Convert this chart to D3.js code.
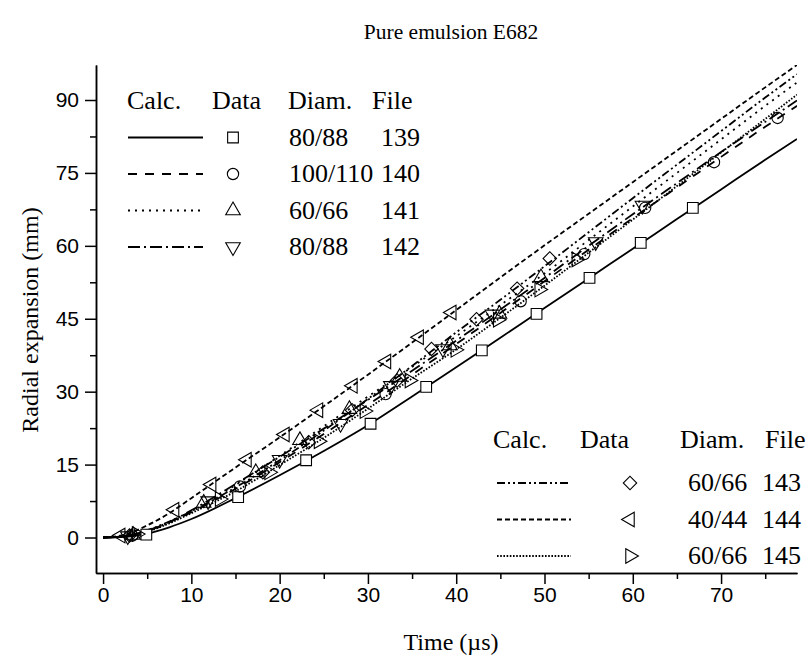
<!DOCTYPE html>
<html>
<head>
<meta charset="utf-8">
<script src="https://cdn.jsdelivr.net/npm/d3@7"></script>
<style>
  body { margin: 0; background: #fff; }
  .axis text { font-family: "Liberation Sans", Arial, sans-serif; font-size: 21px; fill: #000; }
  .axis path, .axis line { stroke: #000; stroke-width: 1.5; }
  .serif { font-family: "Liberation Serif", "Times New Roman", serif; fill: #000; }
</style>
</head>
<body>
<div id="chart"></div>
<script>
// calculated curves on a common time grid (µs -> mm)
const calcTime = [0, 2.5, 5, 7.5, 10, 15, 20, 25, 30, 35, 40, 45, 50, 55, 60, 65, 70, 75, 78.6];
const calc139 = [0, 0.15, 0.8, 2.1, 3.8, 8.1, 12.8, 17.8, 23.1, 29.0, 35.0, 41.1, 47.2, 53.3, 59.4, 65.5, 71.6, 77.7, 82.0];
const calc140 = [0, 0.3, 1.4, 3.1, 5.2, 10.0, 15.5, 21.3, 27.3, 33.5, 39.8, 46.2, 52.7, 59.2, 65.7, 72.0, 78.3, 84.5, 88.8];
const calc141 = [0, 0.3, 1.3, 3.0, 5.3, 10.8, 16.8, 22.9, 29.0, 35.1, 41.4, 47.8, 54.3, 61.2, 68.1, 75.0, 81.9, 88.8, 93.6];
const calc142 = [0, 0.3, 1.4, 3.2, 5.6, 11.0, 16.6, 22.4, 28.3, 34.3, 40.5, 46.9, 53.4, 60.0, 66.5, 72.9, 79.3, 85.5, 89.9];
const calc143 = [0, 0.3, 1.5, 3.3, 5.4, 10.3, 15.9, 22.0, 28.5, 35.3, 42.2, 48.9, 55.8, 62.8, 69.8, 76.7, 83.6, 90.5, 95.3];
const calc144 = [0, 0.6, 2.5, 5.0, 8.1, 14.4, 20.6, 27.0, 33.5, 40.1, 46.8, 53.5, 60.1, 66.6, 73.1, 79.6, 86.1, 92.6, 97.2];
const calc145 = [0, 0.3, 1.2, 2.9, 5.0, 9.5, 14.9, 20.5, 26.5, 32.7, 38.7, 45.2, 51.8, 58.6, 65.4, 72.3, 79.2, 86.1, 91.1];

// measured data points
const t139 = [4.9, 15.3, 23.0, 30.3, 36.6, 42.9, 49.1, 55.1, 60.9, 66.8];
const r139 = [0.6, 8.3, 15.9, 23.4, 31.0, 38.5, 46.0, 53.4, 60.6, 67.8];
const t140 = [3.3, 15.5, 32.0, 47.3, 54.5, 61.4, 69.2, 76.4];
const r140 = [0.4, 10.5, 29.5, 48.6, 58.3, 67.8, 77.2, 86.3];
const t141 = [3.4, 11.4, 17.3, 22.3, 27.9, 33.6, 39.3, 44.9, 49.6];
const r141 = [0.5, 7.1, 13.4, 20.0, 26.4, 33.0, 39.5, 46.0, 53.5];
const t142 = [2.8, 11.9, 20.0, 26.9, 32.6, 38.5, 44.1, 55.8, 61.1];
const r142 = [0.3, 7.5, 16.0, 23.4, 31.2, 38.8, 45.9, 60.8, 68.3];
const t143 = [3.0, 18.1, 23.3, 28.2, 33.3, 37.2, 42.3, 46.9, 50.6];
const r143 = [0.4, 13.4, 19.6, 26.2, 32.3, 38.8, 44.9, 51.2, 57.4];
const t144 = [2.0, 8.1, 12.3, 16.3, 20.6, 24.4, 28.3, 32.1, 35.8, 39.5];
const r144 = [0.4, 5.7, 10.9, 16.0, 21.2, 26.2, 31.2, 36.2, 41.2, 46.3];
const t145 = [3.8, 13.2, 18.8, 24.4, 29.6, 34.7, 39.9, 44.7, 49.4, 53.6];
const r145 = [0.7, 7.9, 13.4, 19.8, 26.0, 32.3, 38.6, 44.8, 51.0, 57.2];

// legend entries
const files = ['139', '140', '141', '142', '143', '144', '145'];
const diams = ['80/88', '100/110', '60/66', '80/88', '60/66', '40/44', '60/66'];

const xTicks = [0, 10, 20, 30, 40, 50, 60, 70];
const xMinor = [5, 15, 25, 35, 45, 55, 65, 75];
const yTicks = [0, 15, 30, 45, 60, 75, 90];
const yMinor = [7.5, 22.5, 37.5, 52.5, 67.5, 82.5];

const calcs = [calc139, calc140, calc141, calc142, calc143, calc144, calc145];
const times = [t139, t140, t141, t142, t143, t144, t145];
const radii = [r139, r140, r141, r142, r143, r144, r145];

// line dash and marker per file
const dashes = [null, '9,8', '2,5', '12,4,2,4', '8,3,2,3,2,3', '5,3', '1.6,1.6'];
const markers = [
  { type: d3.symbolSquare, size: 115, rot: 0, fill: '#fff' },
  { type: d3.symbolCircle, size: 100, rot: 0, fill: 'none' },
  { type: d3.symbolTriangle, size: 92, rot: 0, fill: 'none' },
  { type: d3.symbolTriangle, size: 92, rot: 180, fill: 'none' },
  { type: d3.symbolSquare, size: 90, rot: 45, fill: 'none' },
  { type: d3.symbolTriangle, size: 92, rot: -90, fill: 'none' },
  { type: d3.symbolTriangle, size: 92, rot: 90, fill: 'none' }
];

const width = 808, height = 662;

const x = d3.scaleLinear([-0.8, 78.6], [96, 797]);
const y = d3.scaleLinear([-7.3, 97.2], [573, 65]);

const svg = d3.select('#chart').append('svg')
  .attr('width', width)
  .attr('height', height);

svg.append('defs').append('clipPath').attr('id', 'plot')
  .append('rect')
  .attr('x', x.range()[0]).attr('y', y.range()[1])
  .attr('width', x.range()[1] - x.range()[0])
  .attr('height', y.range()[0] - y.range()[1]);

// axes
svg.append('g').attr('class', 'axis')
  .attr('transform', `translate(0,${y.range()[0]})`)
  .call(d3.axisBottom(x).tickValues(xMinor).tickSize(6).tickSizeOuter(0).tickFormat(''));
svg.append('g').attr('class', 'axis')
  .attr('transform', `translate(0,${y.range()[0]})`)
  .call(d3.axisBottom(x).tickValues(xTicks).tickSize(11).tickSizeOuter(0).tickPadding(3));

svg.append('g').attr('class', 'axis')
  .attr('transform', `translate(${x.range()[0]},0)`)
  .call(d3.axisLeft(y).tickValues(yMinor).tickSize(6).tickSizeOuter(0).tickFormat(''));
svg.append('g').attr('class', 'axis')
  .attr('transform', `translate(${x.range()[0]},0)`)
  .call(d3.axisLeft(y).tickValues(yTicks).tickSize(11).tickSizeOuter(0).tickPadding(6));

// curves
const line = d3.line()
  .x(d => x(d[0]))
  .y(d => y(d[1]))
  .curve(d3.curveMonotoneX);

const plot = svg.append('g').attr('clip-path', 'url(#plot)');

calcs.forEach((c, i) => {
  plot.append('path')
    .datum(calcTime.map((t, j) => [t, c[j]]))
    .attr('d', line)
    .attr('fill', 'none')
    .attr('stroke', '#000')
    .attr('stroke-width', 1.8)
    .attr('stroke-dasharray', dashes[i]);
});

const symbolPath = m => d3.symbol().type(m.type).size(m.size)();

times.forEach((ts, i) => {
  const m = markers[i];
  plot.selectAll(null)
    .data(ts.map((t, j) => [t, radii[i][j]]))
    .enter()
    .append('path')
    .attr('d', symbolPath(m))
    .attr('transform', d => `translate(${x(d[0])},${y(d[1])}) rotate(${m.rot})`)
    .attr('fill', m.fill)
    .attr('stroke', '#000')
    .attr('stroke-width', 1.1);
});

// titles
svg.append('text').attr('class', 'serif')
  .attr('x', 451).attr('y', 39)
  .attr('text-anchor', 'middle')
  .style('font-size', '21.5px')
  .text('Pure emulsion E682');

svg.append('text').attr('class', 'serif')
  .attr('x', 451).attr('y', 650)
  .attr('text-anchor', 'middle')
  .style('font-size', '24px')
  .text('Time (µs)');

svg.append('text').attr('class', 'serif')
  .attr('transform', 'translate(38,320) rotate(-90)')
  .attr('text-anchor', 'middle')
  .style('font-size', '24px')
  .text('Radial expansion (mm)');

// legends
function drawLegend(g, idx, opt) {
  const head = g.append('text').attr('class', 'serif').style('font-size', opt.font + 'px')
    .attr('y', opt.top);
  opt.headX.forEach((hx, k) => {
    head.append('tspan').attr('x', hx).text(['Calc.', 'Data', 'Diam.', 'File'][k]);
  });
  idx.forEach((i, k) => {
    const cy = opt.top - 8 + opt.gap + k * opt.step;
    g.append('line')
      .attr('x1', opt.lineX[0]).attr('x2', opt.lineX[1])
      .attr('y1', cy).attr('y2', cy)
      .attr('stroke', '#000').attr('stroke-width', 1.8)
      .attr('stroke-dasharray', dashes[i]);
    const m = markers[i];
    g.append('path')
      .attr('d', symbolPath(m))
      .attr('transform', `translate(${opt.markX},${cy}) rotate(${m.rot})`)
      .attr('fill', m.fill === 'none' ? '#fff' : m.fill)
      .attr('stroke', '#000').attr('stroke-width', 1.1);
    g.append('text').attr('class', 'serif').style('font-size', opt.font + 'px')
      .attr('x', opt.diamX).attr('y', cy + 8).text(diams[i]);
    g.append('text').attr('class', 'serif').style('font-size', opt.font + 'px')
      .attr('x', opt.fileX).attr('y', cy + 8).text(files[i]);
  });
}

drawLegend(svg.append('g'), [0, 1, 2, 3], {
  top: 109, gap: 36.5, step: 36.5, font: 26,
  headX: [127, 212, 288, 372],
  lineX: [128, 203], markX: 233, diamX: 289, fileX: 381
});

drawLegend(svg.append('g'), [4, 5, 6], {
  top: 448, gap: 43, step: 36.5, font: 26,
  headX: [493, 580, 680, 765],
  lineX: [497, 571], markX: 630, diamX: 688, fileX: 762
});
</script>
</body>
</html>
